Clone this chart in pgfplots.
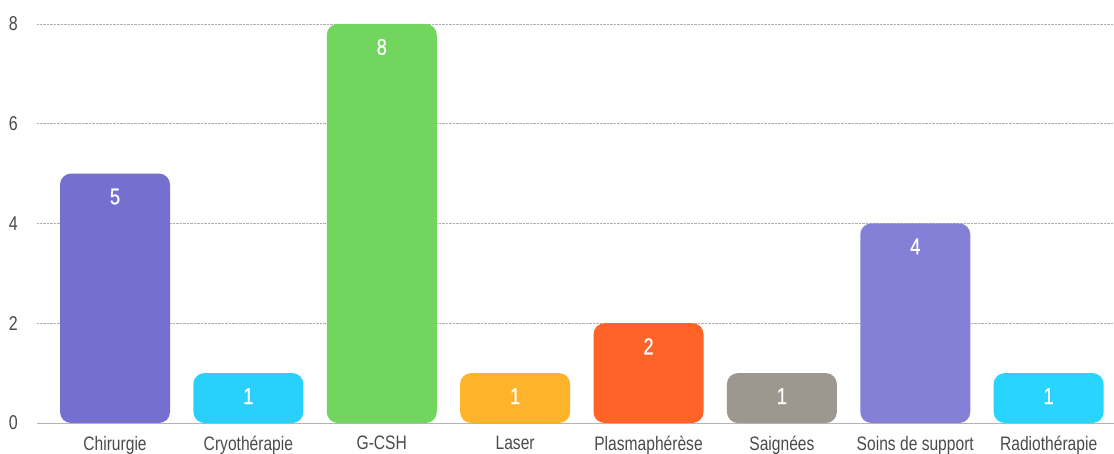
\documentclass[border=0pt]{standalone}
\usepackage{pgfplots}
\pgfplotsset{compat=1.18}
\usepackage{fontspec}
\setmainfont{Liberation Sans}[FakeStretch=0.8]
\newfontfamily\numfont{Liberation Sans}[FakeStretch=0.8, FakeBold=0.6]
\definecolor{cChir}{RGB}{117,112,207}
\definecolor{cCryo}{RGB}{41,208,252}
\definecolor{cGcsh}{RGB}{114,214,94}
\definecolor{cLaser}{RGB}{253,179,42}
\definecolor{cPlasma}{RGB}{255,99,40}
\definecolor{cSaign}{RGB}{156,152,144}
\definecolor{cSoins}{RGB}{133,128,215}
\definecolor{cRadio}{RGB}{39,213,255}
\definecolor{labgray}{RGB}{75,75,75}
\definecolor{gridgray}{RGB}{175,175,175}
\definecolor{axgray}{RGB}{180,180,180}
\begin{document}
\begin{tikzpicture}
\begin{axis}[
    scale only axis, width=1077pt, height=423pt,
    xmin=-0.585, xmax=7.49, ymin=0, ymax=8.48,
    ybar, bar width=110pt, bar shift=0pt,
    xtick={0,...,7},
    xticklabels={Chirurgie, Cryothérapie, G-CSH, Laser, Plasmaphérèse, Saignées, Soins de support, Radiothérapie},
    ytick={2,4,6,8},
    extra y ticks={0},
    extra y tick style={major grid style={solid, draw=axgray, line width=0.9pt}},
    ymajorgrids, grid style={densely dotted, draw=gridgray, line width=0.6pt},
    axis line style={draw=none}, major tick length=0pt,
    tick label style={text=labgray},
    xticklabel style={font=\fontsize{19.5}{20}\selectfont, anchor=north, inner sep=0pt, yshift=-13pt},
    yticklabel style={font=\fontsize{20}{20}\selectfont, anchor=east, inner sep=0pt, xshift=-19pt},
    /pgf/number format/assume math mode=true,
    nodes near coords,
    every node near coord/.append style={anchor=center, yshift=-23pt, text=white,
        font=\numfont\fontsize{23}{23}\selectfont},
    every axis plot/.append style={draw=none, rounded corners=11pt},
    clip=false,
]
    \addplot[fill=cChir]   coordinates {(0,5)};
    \addplot[fill=cCryo]   coordinates {(1,1)};
    \addplot[fill=cGcsh]   coordinates {(2,8)};
    \addplot[fill=cLaser]  coordinates {(3,1)};
    \addplot[fill=cPlasma] coordinates {(4,2)};
    \addplot[fill=cSaign]  coordinates {(5,1)};
    \addplot[fill=cSoins]  coordinates {(6,4)};
    \addplot[fill=cRadio]  coordinates {(7,1)};
    \coordinate (bl) at (rel axis cs:0,0);
    \coordinate (tr) at (rel axis cs:1,1);
\end{axis}
\pgfresetboundingbox
\path (bl) ++(-37pt,-31pt) rectangle (tr);
\end{tikzpicture}
\end{document}
